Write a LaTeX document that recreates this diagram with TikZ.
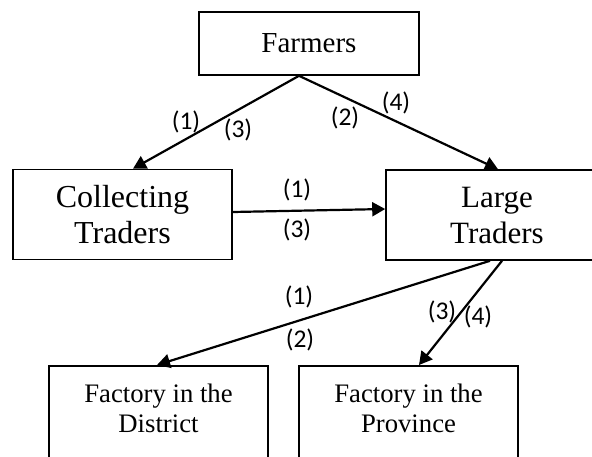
\documentclass[tikz,border=0pt]{standalone}
\usepackage{fontspec}
\setmainfont{Liberation Serif}
\newfontfamily\lblfont{Carlito}
\usetikzlibrary{arrows.meta,calc}
\begin{document}
\begin{tikzpicture}[x=1pt,y=-1pt,
  box/.style={draw,line width=1.6pt,inner sep=0pt},
  conn/.style={line width=2.2pt,-{Triangle[length=13pt,width=14pt]}},
  lbl/.style={font=\lblfont\fontsize{25.5}{28}\selectfont,inner sep=0pt},
  txt/.style={align=center,inner sep=0pt,font=\fontsize{26.7}{30}\selectfont}]
\useasboundingbox (0,0) rectangle (592,456);
\clip (0,0) rectangle (592,456);
\fill[white] (0,0) rectangle (592,456);
% boxes
\node[box,minimum width=220pt,minimum height=63pt,font=\fontsize{29}{34}\selectfont] (farmers) at (309,43.5) {Farmers};
\node[box,minimum width=219pt,minimum height=90pt,align=center,font=\fontsize{32}{36}\selectfont] (collect) at (122.5,214.5) {Collecting\\Traders};
\node[box,minimum width=222pt,minimum height=90pt,align=center,font=\fontsize{31}{36}\selectfont] (large) at (497,215) {Large\\Traders};
\node[box,minimum width=219pt,minimum height=130pt,anchor=north] (dbox) at (158.5,365) {};
\node[box,minimum width=219pt,minimum height=130pt,anchor=north] (pbox) at (408.5,365) {};
\node[txt,anchor=north] (dtext) at (158.5,384) {Factory in the\\District};
\node[txt,anchor=north] (ptext) at (408.5,384) {Factory in the\\Province};
% connectors
\draw[conn] ($(farmers.south)+(-10,0)$) -- ($(collect.north)+(10.5,0)$);
\draw[conn] ($(farmers.south)+(-10,0)$) -- ($(large.north)+(1,0)$);
\draw[conn] ($(collect.east)+(0,-2.5)$) -- ($(large.west)+(0,-6)$);
\draw[conn] ($(large.south)+(-7,0)$) -- ($(dbox.north)+(-1.5,0)$);
\draw[conn] ($(large.south)+(5,0)$) -- ($(pbox.north)+(10.5,0)$);
% labels
\node[lbl] (l1) at (186,122) {(1)};
\node[lbl] (l2) at (238,130) {(3)};
\node[lbl] (l3) at (345,118) {(2)};
\node[lbl] (l4) at (396,103) {(4)};
\node[lbl] (l5) at (297,190) {(1)};
\node[lbl] (l6) at (297,230) {(3)};
\node[lbl] (l7) at (299,297) {(1)};
\node[lbl] (l8) at (300,340) {(2)};
\node[lbl] (l9) at (442,312) {(3)};
\node[lbl] (l10) at (478,317) {(4)};
\end{tikzpicture}
\end{document}
